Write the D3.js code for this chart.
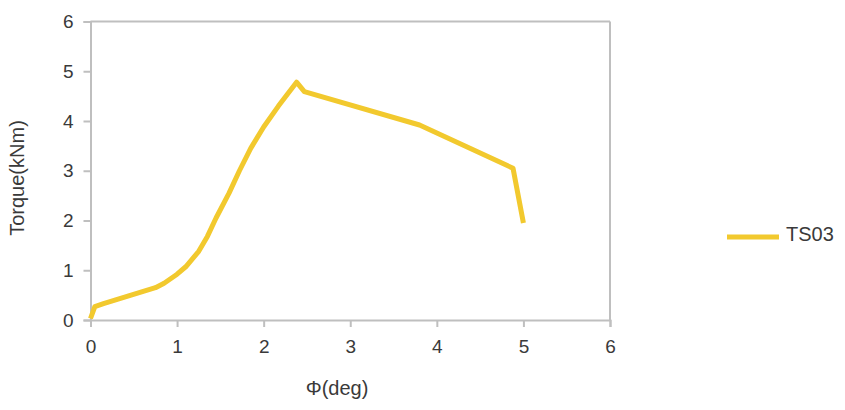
<!DOCTYPE html>
<html>
<head>
<meta charset="utf-8">
<script src="https://cdnjs.cloudflare.com/ajax/libs/d3/7.8.5/d3.min.js"></script>
<style>
 body { margin:0; background:#fff; }
 text { font-family: "Liberation Sans", Arial, sans-serif; fill:#3a3a3a; }
</style>
</head>
<body>
<div id="chart"></div>
<script>

// data
var seriesName = "TS03";
var phi    = [0, 0.05, 0.15, 0.3, 0.45, 0.6, 0.75, 0.85, 1.0, 1.1, 1.25, 1.35, 1.45, 1.6, 1.72, 1.85, 2.0, 2.17, 2.38, 2.47, 3.8, 4.88, 5.0];
var torque = [0.03, 0.27, 0.33, 0.41, 0.49, 0.57, 0.65, 0.74, 0.92, 1.07, 1.38, 1.68, 2.05, 2.55, 3.0, 3.45, 3.88, 4.3, 4.78, 4.59, 3.92, 3.05, 1.95];
var xTicks = [0, 1, 2, 3, 4, 5, 6];
var yTicks = [0, 1, 2, 3, 4, 5, 6];

var W = 845, H = 410;
var margin = {top: 21.5, left: 90.5, right: 235, bottom: 90};
var width = W - margin.left - margin.right;
var height = 320 - margin.top;

var lineColor = "#f2c92e";
var axisColor = "#bfbfbf";

var svg = d3.select("#chart")
 .append("svg")
  .attr("width", W)
  .attr("height", H);

var xScale = d3.scaleLinear().domain([0, 6]).range([0, width]);
var yScale = d3.scaleLinear().domain([0, 6]).range([height, 0]);

var g = svg.append("g")
  .attr("transform", "translate(" + margin.left + "," + margin.top + ")");

//plot frame: top and right
g.append("line")
  .attr("x1", 0).attr("x2", width).attr("y1", 0).attr("y2", 0)
  .attr("stroke", axisColor).attr("stroke-width", 2);
g.append("line")
  .attr("x1", width).attr("x2", width).attr("y1", 0).attr("y2", height)
  .attr("stroke", axisColor).attr("stroke-width", 2);

//x axis
var xAxis = g.append("g")
  .attr("transform", "translate(0," + height + ")")
  .call(d3.axisBottom(xScale).tickValues(xTicks).tickSize(7).tickPadding(13).tickFormat(d3.format("d")));

//y axis
var yAxis = g.append("g")
  .call(d3.axisLeft(yScale).tickValues(yTicks).tickSize(7).tickPadding(10).tickFormat(d3.format("d")));

[xAxis, yAxis].forEach(function(a){
  a.select(".domain").attr("stroke", axisColor).attr("stroke-width", 2);
  a.selectAll(".tick line").attr("stroke", axisColor).attr("stroke-width", 2);
  a.selectAll(".tick text")
    .style("font-family", "Liberation Sans, Arial, sans-serif")
    .style("font-size", "19px")
    .attr("fill", "#3a3a3a");
});

//series line
var pts = phi.map(function(d, i){ return [d, torque[i]]; });
var line = d3.line()
  .x(function(d){ return xScale(d[0]); })
  .y(function(d){ return yScale(d[1]); });

g.append("path")
  .datum(pts)
  .attr("d", line)
  .attr("fill", "none")
  .attr("stroke", lineColor)
  .attr("stroke-width", 5)
  .attr("stroke-linejoin", "round");

//axis titles
svg.append("text")
  .attr("transform", "translate(24,178) rotate(-90)")
  .attr("text-anchor", "middle")
  .style("font-size", "20px")
  .text("Torque(kNm)");

svg.append("text")
  .attr("x", 337)
  .attr("y", 395)
  .attr("text-anchor", "middle")
  .style("font-size", "20px")
  .text("Φ(deg)");

//legend
svg.append("line")
  .attr("x1", 727).attr("x2", 779)
  .attr("y1", 237).attr("y2", 237)
  .attr("stroke", lineColor).attr("stroke-width", 5);

svg.append("text")
  .attr("x", 786)
  .attr("y", 241)
  .style("font-size", "20px")
  .text(seriesName);

</script>
</body>
</html>
